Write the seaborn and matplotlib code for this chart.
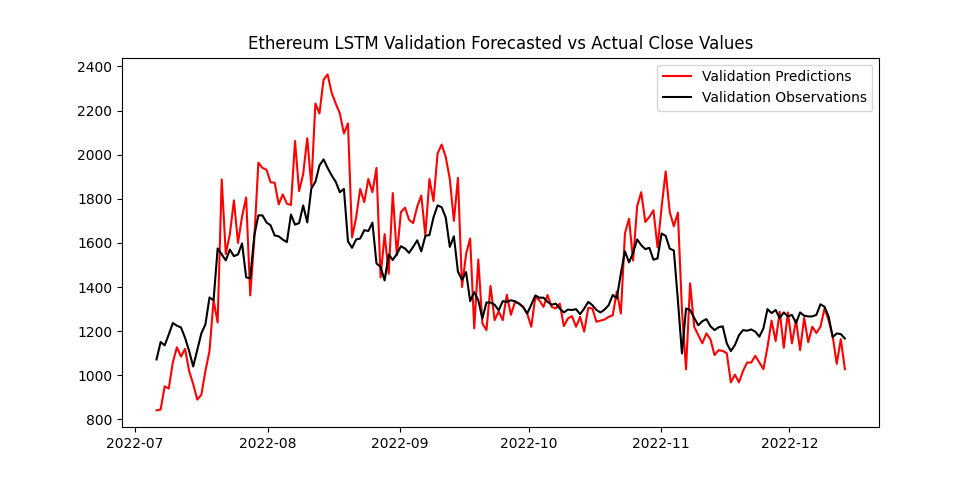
import pandas as pd
import numpy as np
import matplotlib
matplotlib.use("Agg")
import matplotlib.pyplot as plt
import seaborn as sns

# values (Jul 6 - Dec 14, 2022)
predictions = [
    841, 845, 950, 940, 1059, 1127, 1085, 1120, 1020, 960, 890, 912, 1020, 1110,
    1340, 1240, 1888, 1550, 1640, 1793, 1600, 1720, 1806, 1362, 1618, 1964, 1940,
    1932, 1875, 1873, 1775, 1820, 1778, 1772, 2062, 1835, 1912, 2075, 1858, 2232,
    2187, 2340,
    2364, 2280, 2232, 2187, 2096, 2142, 1625, 1715, 1845, 1785, 1890, 1830, 1940,
    1444, 1640, 1460, 1826, 1544, 1740, 1760, 1705, 1690, 1765, 1815, 1634, 1890,
    1790, 2005, 2046, 1990, 1890, 1700, 1895, 1400, 1550, 1620, 1213, 1525, 1235,
    1205, 1405, 1250,
    1290, 1250, 1365, 1274, 1333, 1325, 1310, 1280, 1220, 1355, 1340, 1310, 1364,
    1310, 1303, 1325, 1223, 1258, 1268, 1220, 1265, 1198, 1306, 1303, 1243, 1248,
    1253, 1265, 1272, 1380, 1280, 1643, 1710, 1520, 1767, 1830, 1695, 1718,
    1748, 1580, 1762, 1924, 1740, 1676, 1737, 1294, 1027, 1417, 1220, 1182, 1145,
    1190, 1163, 1092, 1114, 1111, 1100, 968, 1003, 968, 1020, 1058, 1058, 1088,
    1058, 1028, 1128, 1248, 1155, 1288, 1125, 1285, 1145, 1250, 1114, 1260, 1150,
    1220, 1192, 1220, 1303, 1250, 1178, 1052, 1164, 1028,
]

observations = [
    1072, 1151, 1136, 1185, 1237, 1225, 1217, 1170, 1110, 1040, 1115, 1190, 1231,
    1353, 1340, 1575, 1548, 1521, 1570, 1540, 1548, 1598, 1444, 1440, 1634, 1725,
    1725, 1693, 1680, 1634, 1630, 1615, 1604, 1729, 1683, 1690, 1770, 1693, 1847,
    1877, 1951, 1979,
    1940, 1906, 1877, 1830, 1845, 1607, 1578, 1616, 1620, 1658, 1654, 1692, 1507,
    1492, 1430, 1548, 1523, 1550, 1585, 1575, 1555, 1582, 1612, 1562, 1632, 1636,
    1716, 1770, 1762, 1716, 1582, 1630, 1470, 1433, 1468, 1336, 1377, 1340, 1258,
    1330, 1330, 1320,
    1295, 1336, 1333, 1340, 1336, 1325, 1310, 1280, 1320, 1362, 1352, 1352, 1333,
    1320, 1325, 1303, 1285, 1298, 1296, 1300, 1277, 1303, 1333, 1318, 1296, 1285,
    1298, 1318, 1364, 1349, 1462, 1562, 1512, 1555, 1616, 1590, 1572, 1578,
    1524, 1530, 1643, 1632, 1574, 1566, 1340, 1099, 1303, 1296, 1260, 1227, 1245,
    1255, 1222, 1205, 1218, 1222, 1145, 1110, 1137, 1182, 1205, 1202, 1208, 1198,
    1175, 1213, 1300, 1282, 1296, 1260, 1285, 1267, 1274, 1237, 1285, 1270, 1267,
    1267, 1274, 1322, 1311, 1267, 1173, 1190, 1187, 1167,
]

dates = pd.date_range("2022-07-06", "2022-12-14", periods=len(observations))

df = pd.DataFrame({
    "Date": dates,
    "Predictions": predictions,
    "Observations": observations,
})

fig, ax = plt.subplots(figsize=(9.77, 4.8), dpi=100)
sns.lineplot(data=df, x="Date", y="Predictions", color="red",
             label="Validation Predictions", ax=ax)
sns.lineplot(data=df, x="Date", y="Observations", color="black",
             label="Validation Observations", ax=ax)

ax.set_title("Ethereum LSTM Validation Forecasted vs Actual Close Values")
ax.set_xlabel("")
ax.set_ylabel("")
ax.legend(loc="upper right")

plt.savefig("out.png", dpi=100)
